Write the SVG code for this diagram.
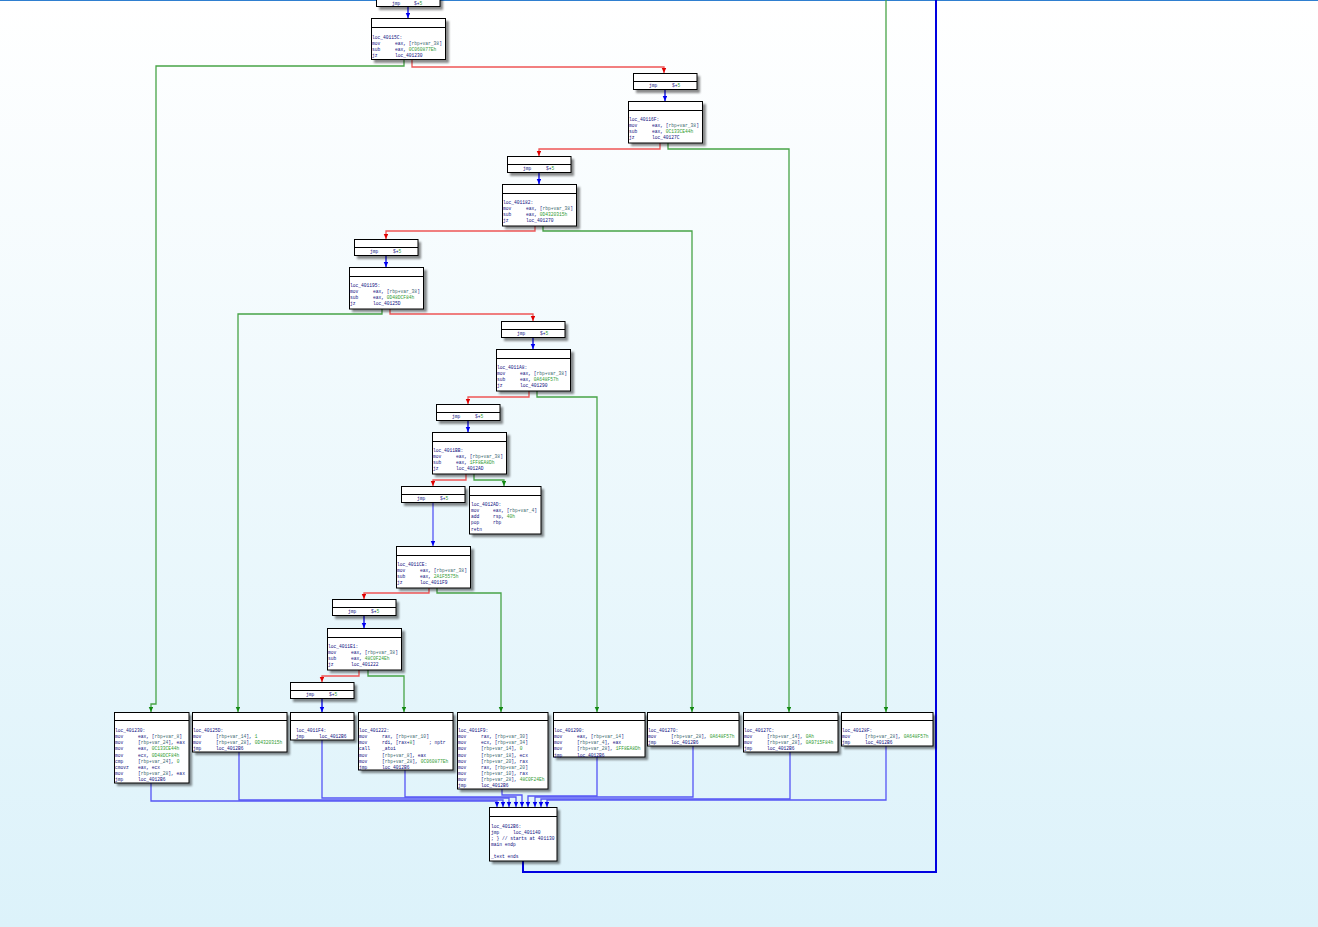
<svg xmlns="http://www.w3.org/2000/svg" width="1318" height="927" viewBox="0 0 1318 927">
<defs>
<linearGradient id="bg" x1="0" y1="0" x2="0" y2="1">
<stop offset="0" stop-color="#ffffff"/>
<stop offset="1" stop-color="#dcf2fa"/>
</linearGradient>
<filter id="blur" x="-10%" y="-10%" width="130%" height="130%"><feGaussianBlur stdDeviation="1"/></filter>
<marker id="ag" markerWidth="5" markerHeight="5" refX="5" refY="2.25" orient="auto" markerUnits="userSpaceOnUse"><path d="M0,0 L5,2.25 L0,4.5 z" fill="#138a13"/></marker>
<marker id="ar" markerWidth="5" markerHeight="5" refX="5" refY="2.25" orient="auto" markerUnits="userSpaceOnUse"><path d="M0,0 L5,2.25 L0,4.5 z" fill="#e00000"/></marker>
<marker id="ab" markerWidth="5" markerHeight="5" refX="5" refY="2.25" orient="auto" markerUnits="userSpaceOnUse"><path d="M0,0 L5,2.25 L0,4.5 z" fill="#0000f0"/></marker>
<style>
.bx{fill:#fff;stroke:#000;stroke-width:1}
.sh{fill:#000;opacity:0.45;filter:url(#blur)}
.hd{stroke:#000;stroke-width:1}
text{font-family:"Liberation Mono","DejaVu Sans Mono",monospace;font-size:4.6px;fill:#101080}
.n{fill:#2f9a2f}
.v{fill:#406a70}
.e{fill:none;stroke-width:1.3}
.g{stroke:#47a447}
.r{stroke:#ee5555}
.bl{stroke:#5555f5}
.bb{stroke:#0000e8}
</style>
</defs>
<rect width="1318" height="927" fill="url(#bg)"/>
<line x1="0" y1="0.5" x2="1318" y2="0.5" stroke="#2f7fd0" stroke-width="1"/>

<g id="connectors">
<polyline class="e g" points="404,60 404,66 156,66 156,704 151,704 151,712" marker-end="url(#ag)"/>
<polyline class="e g" points="668,143 668,149 789,149 789,712" marker-end="url(#ag)"/>
<polyline class="e g" points="543,226 543,231 692,231 692,712" marker-end="url(#ag)"/>
<polyline class="e g" points="382,309 382,314 238,314 238,712" marker-end="url(#ag)"/>
<polyline class="e g" points="537,391 537,397 597,397 597,712" marker-end="url(#ag)"/>
<polyline class="e g" points="474,474 474,480 504,480 504,486" marker-end="url(#ag)"/>
<polyline class="e g" points="437,588 437,593 501,593 501,712" marker-end="url(#ag)"/>
<polyline class="e g" points="368,670 368,676 404,676 404,712" marker-end="url(#ag)"/>
<polyline class="e g" points="886,0 886,712" marker-end="url(#ag)"/>

<polyline class="e r" points="412,60 412,67 664,67 664,73" marker-end="url(#ar)"/>
<polyline class="e r" points="660,143 660,149 539,149 539,156" marker-end="url(#ar)"/>
<polyline class="e r" points="535,226 535,231 386,231 386,239" marker-end="url(#ar)"/>
<polyline class="e r" points="390,309 390,314 533,314 533,321" marker-end="url(#ar)"/>
<polyline class="e r" points="529,391 529,397 468,397 468,404" marker-end="url(#ar)"/>
<polyline class="e r" points="466,474 466,480 433,480 433,486" marker-end="url(#ar)"/>
<polyline class="e r" points="429,588 429,593 364,593 364,599" marker-end="url(#ar)"/>
<polyline class="e r" points="359,670 359,676 322,676 322,682" marker-end="url(#ar)"/>

<polyline class="e bb" points="408,7 408,18" marker-end="url(#ab)"/>
<polyline class="e bb" points="665,90 665,101" marker-end="url(#ab)"/>
<polyline class="e bb" points="539,173 539,184" marker-end="url(#ab)"/>
<polyline class="e bb" points="386,256 386,267" marker-end="url(#ab)"/>
<polyline class="e bb" points="533,338 533,349" marker-end="url(#ab)"/>
<polyline class="e bb" points="468,421 468,432" marker-end="url(#ab)"/>
<polyline class="e bl" points="433,503 433,546" marker-end="url(#ab)"/>
<polyline class="e bb" points="364,616 364,628" marker-end="url(#ab)"/>
<polyline class="e bb" points="322,699 322,712" marker-end="url(#ab)"/>

<polyline class="e bl" points="151,783 151,801 497,801 497,807" marker-end="url(#ab)"/>
<polyline class="e bl" points="239,752 239,800 503,800 503,807" marker-end="url(#ab)"/>
<polyline class="e bl" points="322,740 322,798 509,798 509,807" marker-end="url(#ab)"/>
<polyline class="e bl" points="405,770 405,797 516,797 516,807" marker-end="url(#ab)"/>
<polyline class="e bl" points="502,789 502,795 522,795 522,807" marker-end="url(#ab)"/>
<polyline class="e bl" points="597,757 597,796 528,796 528,807" marker-end="url(#ab)"/>
<polyline class="e bl" points="693,746 693,797 535,797 535,807" marker-end="url(#ab)"/>
<polyline class="e bl" points="790,752 790,799 541,799 541,807" marker-end="url(#ab)"/>
<polyline class="e bl" points="886,746 886,800 547,800 547,807" marker-end="url(#ab)"/>
<polyline fill="none" stroke="#0000e0" stroke-width="2" points="523,861 523,872 936,872 936,0"/>
</g>

<g id="n_jmp0">
<rect class="sh" x="379" y="-9" width="64" height="19"/>
<rect class="bx" x="376.5" y="-12" width="63.5" height="18.5"/>
<text y="5"><tspan x="392">jmp</tspan><tspan x="414">$+<tspan class="n">5</tspan></tspan></text>
</g>

<g id="n_40115C">
<rect class="sh" x="374" y="21" width="75" height="42"/>
<rect class="bx" x="371.5" y="18.5" width="74" height="41"/>
<line class="hd" x1="371.5" y1="27.5" x2="445.5" y2="27.5"/>
<text y="38.5"><tspan x="372">loc_40115C:</tspan></text>
<text y="44.65"><tspan x="372">mov</tspan><tspan x="395">eax, [<tspan class="v">rbp+var_38</tspan>]</tspan></text>
<text y="50.8"><tspan x="372">sub</tspan><tspan x="395">eax, <tspan class="n">0C060877Eh</tspan></tspan></text>
<text y="56.95"><tspan x="372">jz</tspan><tspan x="395">loc_401230</tspan></text>
</g>

<g id="n_jmpA">
<rect class="sh" x="636" y="76" width="64" height="17"/>
<rect class="bx" x="633.5" y="73.5" width="63.5" height="16"/>
<line class="hd" x1="633.5" y1="81.5" x2="697" y2="81.5"/>
<text y="87"><tspan x="649">jmp</tspan><tspan x="672">$+<tspan class="n">5</tspan></tspan></text>
</g>

<g id="n_40116F">
<rect class="sh" x="631" y="104" width="75" height="42"/>
<rect class="bx" x="628.5" y="101.5" width="74" height="41.5"/>
<line class="hd" x1="628.5" y1="110.5" x2="702.5" y2="110.5"/>
<text y="121"><tspan x="629">loc_40116F:</tspan></text>
<text y="127.15"><tspan x="629">mov</tspan><tspan x="652">eax, [<tspan class="v">rbp+var_38</tspan>]</tspan></text>
<text y="133.3"><tspan x="629">sub</tspan><tspan x="652">eax, <tspan class="n">0C133CE44h</tspan></tspan></text>
<text y="139.45"><tspan x="629">jz</tspan><tspan x="652">loc_40127C</tspan></text>
</g>

<g id="n_jmpB">
<rect class="sh" x="510" y="159" width="64" height="17"/>
<rect class="bx" x="507.5" y="156.5" width="63.5" height="16"/>
<line class="hd" x1="507.5" y1="164.5" x2="571" y2="164.5"/>
<text y="170"><tspan x="523">jmp</tspan><tspan x="546">$+<tspan class="n">5</tspan></tspan></text>
</g>

<g id="n_401182">
<rect class="sh" x="505" y="187" width="75" height="42"/>
<rect class="bx" x="502.5" y="184.5" width="74" height="41.5"/>
<line class="hd" x1="502.5" y1="193.5" x2="576.5" y2="193.5"/>
<text y="204"><tspan x="503">loc_401182:</tspan></text>
<text y="210.15"><tspan x="503">mov</tspan><tspan x="526">eax, [<tspan class="v">rbp+var_38</tspan>]</tspan></text>
<text y="216.3"><tspan x="503">sub</tspan><tspan x="526">eax, <tspan class="n">0D4320315h</tspan></tspan></text>
<text y="222.45"><tspan x="503">jz</tspan><tspan x="526">loc_401270</tspan></text>
</g>

<g id="n_jmpC">
<rect class="sh" x="357" y="242" width="64" height="17"/>
<rect class="bx" x="354.5" y="239.5" width="63.5" height="16"/>
<line class="hd" x1="354.5" y1="247.5" x2="418" y2="247.5"/>
<text y="253"><tspan x="370">jmp</tspan><tspan x="393">$+<tspan class="n">5</tspan></tspan></text>
</g>

<g id="n_401195">
<rect class="sh" x="352" y="270" width="75" height="42"/>
<rect class="bx" x="349.5" y="267.5" width="74" height="41.5"/>
<line class="hd" x1="349.5" y1="276.5" x2="423.5" y2="276.5"/>
<text y="287"><tspan x="350">loc_401195:</tspan></text>
<text y="293.15"><tspan x="350">mov</tspan><tspan x="373">eax, [<tspan class="v">rbp+var_38</tspan>]</tspan></text>
<text y="299.3"><tspan x="350">sub</tspan><tspan x="373">eax, <tspan class="n">0D48DCF84h</tspan></tspan></text>
<text y="305.45"><tspan x="350">jz</tspan><tspan x="373">loc_40125D</tspan></text>
</g>

<g id="n_jmpD">
<rect class="sh" x="504" y="324" width="64" height="17"/>
<rect class="bx" x="501.5" y="321.5" width="63.5" height="16"/>
<line class="hd" x1="501.5" y1="329.5" x2="565" y2="329.5"/>
<text y="335"><tspan x="517">jmp</tspan><tspan x="540">$+<tspan class="n">5</tspan></tspan></text>
</g>

<g id="n_4011A8">
<rect class="sh" x="499" y="352" width="75" height="42"/>
<rect class="bx" x="496.5" y="349.5" width="74" height="41.5"/>
<line class="hd" x1="496.5" y1="358.5" x2="570.5" y2="358.5"/>
<text y="369"><tspan x="497">loc_4011A8:</tspan></text>
<text y="375.15"><tspan x="497">mov</tspan><tspan x="520">eax, [<tspan class="v">rbp+var_38</tspan>]</tspan></text>
<text y="381.3"><tspan x="497">sub</tspan><tspan x="520">eax, <tspan class="n">0A648F57h</tspan></tspan></text>
<text y="387.45"><tspan x="497">jz</tspan><tspan x="520">loc_401290</tspan></text>
</g>

<g id="n_jmpE">
<rect class="sh" x="439" y="407" width="64" height="17"/>
<rect class="bx" x="436.5" y="404.5" width="63.5" height="16"/>
<line class="hd" x1="436.5" y1="412.5" x2="500" y2="412.5"/>
<text y="418"><tspan x="452">jmp</tspan><tspan x="475">$+<tspan class="n">5</tspan></tspan></text>
</g>

<g id="n_4011BB">
<rect class="sh" x="435" y="435" width="75" height="42"/>
<rect class="bx" x="432.5" y="432.5" width="74" height="41.5"/>
<line class="hd" x1="432.5" y1="441.5" x2="506.5" y2="441.5"/>
<text y="452"><tspan x="433">loc_4011BB:</tspan></text>
<text y="458.15"><tspan x="433">mov</tspan><tspan x="456">eax, [<tspan class="v">rbp+var_38</tspan>]</tspan></text>
<text y="464.3"><tspan x="433">sub</tspan><tspan x="456">eax, <tspan class="n">1FF8EA8Dh</tspan></tspan></text>
<text y="470.45"><tspan x="433">jz</tspan><tspan x="456">loc_4012AD</tspan></text>
</g>

<g id="n_jmpF">
<rect class="sh" x="404" y="489" width="64" height="17"/>
<rect class="bx" x="401.5" y="486.5" width="63.5" height="16"/>
<line class="hd" x1="401.5" y1="494.5" x2="465" y2="494.5"/>
<text y="500"><tspan x="417">jmp</tspan><tspan x="440">$+<tspan class="n">5</tspan></tspan></text>
</g>

<g id="n_4012AD">
<rect class="sh" x="472" y="489" width="72" height="48"/>
<rect class="bx" x="469.5" y="486.5" width="71.5" height="47.5"/>
<line class="hd" x1="469.5" y1="495.5" x2="541" y2="495.5"/>
<text y="506"><tspan x="471">loc_4012AD:</tspan></text>
<text y="512.15"><tspan x="471">mov</tspan><tspan x="493">eax, [<tspan class="v">rbp+var_4</tspan>]</tspan></text>
<text y="518.3"><tspan x="471">add</tspan><tspan x="493">rsp, <tspan class="n">40h</tspan></tspan></text>
<text y="524.45"><tspan x="471">pop</tspan><tspan x="493">rbp</tspan></text>
<text y="530.6"><tspan x="471">retn</tspan></text>
</g>

<g id="n_4011CE">
<rect class="sh" x="399" y="549" width="75" height="42"/>
<rect class="bx" x="396.5" y="546.5" width="74" height="41.5"/>
<line class="hd" x1="396.5" y1="555.5" x2="470.5" y2="555.5"/>
<text y="566"><tspan x="397">loc_4011CE:</tspan></text>
<text y="572.15"><tspan x="397">mov</tspan><tspan x="420">eax, [<tspan class="v">rbp+var_38</tspan>]</tspan></text>
<text y="578.3"><tspan x="397">sub</tspan><tspan x="420">eax, <tspan class="n">2A1F5575h</tspan></tspan></text>
<text y="584.45"><tspan x="397">jz</tspan><tspan x="420">loc_4011F9</tspan></text>
</g>

<g id="n_jmpG">
<rect class="sh" x="335" y="602" width="64" height="17"/>
<rect class="bx" x="332.5" y="599.5" width="63.5" height="16"/>
<line class="hd" x1="332.5" y1="607.5" x2="396" y2="607.5"/>
<text y="613"><tspan x="348">jmp</tspan><tspan x="371">$+<tspan class="n">5</tspan></tspan></text>
</g>

<g id="n_4011E1">
<rect class="sh" x="330" y="631" width="75" height="42"/>
<rect class="bx" x="327.5" y="628.5" width="74" height="41.5"/>
<line class="hd" x1="327.5" y1="637.5" x2="401.5" y2="637.5"/>
<text y="648"><tspan x="328">loc_4011E1:</tspan></text>
<text y="654.15"><tspan x="328">mov</tspan><tspan x="351">eax, [<tspan class="v">rbp+var_38</tspan>]</tspan></text>
<text y="660.3"><tspan x="328">sub</tspan><tspan x="351">eax, <tspan class="n">48C0F24Eh</tspan></tspan></text>
<text y="666.45"><tspan x="328">jz</tspan><tspan x="351">loc_401222</tspan></text>
</g>

<g id="n_jmpH">
<rect class="sh" x="293" y="685" width="64" height="17"/>
<rect class="bx" x="290.5" y="682.5" width="63.5" height="16"/>
<line class="hd" x1="290.5" y1="690.5" x2="354" y2="690.5"/>
<text y="696"><tspan x="306">jmp</tspan><tspan x="329">$+<tspan class="n">5</tspan></tspan></text>
</g>

<g id="n_401230">
<rect class="sh" x="117" y="715" width="75" height="71"/>
<rect class="bx" x="114.5" y="712.5" width="74.5" height="70.5"/>
<line class="hd" x1="114.5" y1="720.5" x2="189" y2="720.5"/>
<text y="732"><tspan x="115">loc_401230:</tspan></text>
<text y="738.15"><tspan x="115">mov</tspan><tspan x="138">eax, [<tspan class="v">rbp+var_8</tspan>]</tspan></text>
<text y="744.3"><tspan x="115">mov</tspan><tspan x="138">[<tspan class="v">rbp+var_24</tspan>], eax</tspan></text>
<text y="750.45"><tspan x="115">mov</tspan><tspan x="138">eax, <tspan class="n">0C133CE44h</tspan></tspan></text>
<text y="756.6"><tspan x="115">mov</tspan><tspan x="138">ecx, <tspan class="n">0D48DCF84h</tspan></tspan></text>
<text y="762.75"><tspan x="115">cmp</tspan><tspan x="138">[<tspan class="v">rbp+var_24</tspan>], <tspan class="n">0</tspan></tspan></text>
<text y="768.9"><tspan x="115">cmovz</tspan><tspan x="138">eax, ecx</tspan></text>
<text y="775.05"><tspan x="115">mov</tspan><tspan x="138">[<tspan class="v">rbp+var_28</tspan>], eax</tspan></text>
<text y="781.2"><tspan x="115">jmp</tspan><tspan x="138">loc_4012B6</tspan></text>
</g>

<g id="n_40125D">
<rect class="sh" x="195" y="715" width="95" height="40"/>
<rect class="bx" x="192.5" y="712.5" width="94.5" height="39.5"/>
<line class="hd" x1="192.5" y1="720.5" x2="287" y2="720.5"/>
<text y="732"><tspan x="193">loc_40125D:</tspan></text>
<text y="738.15"><tspan x="193">mov</tspan><tspan x="216">[<tspan class="v">rbp+var_14</tspan>], <tspan class="n">1</tspan></tspan></text>
<text y="744.3"><tspan x="193">mov</tspan><tspan x="216">[<tspan class="v">rbp+var_28</tspan>], <tspan class="n">0D4320315h</tspan></tspan></text>
<text y="750.45"><tspan x="193">jmp</tspan><tspan x="216">loc_4012B6</tspan></text>
</g>

<g id="n_4011F4">
<rect class="sh" x="293" y="715" width="64" height="28"/>
<rect class="bx" x="290.5" y="712.5" width="63.5" height="27.5"/>
<line class="hd" x1="290.5" y1="720.5" x2="354" y2="720.5"/>
<text y="732"><tspan x="296">loc_4011F4:</tspan></text>
<text y="738.15"><tspan x="296">jmp</tspan><tspan x="319">loc_4012B6</tspan></text>
</g>

<g id="n_401222">
<rect class="sh" x="361" y="715" width="95" height="58"/>
<rect class="bx" x="358.5" y="712.5" width="94.5" height="57.5"/>
<line class="hd" x1="358.5" y1="720.5" x2="453" y2="720.5"/>
<text y="732"><tspan x="359">loc_401222:</tspan></text>
<text y="738.15"><tspan x="359">mov</tspan><tspan x="382">rax, [<tspan class="v">rbp+var_10</tspan>]</tspan></text>
<text y="744.3"><tspan x="359">mov</tspan><tspan x="382">rdi, [rax+<tspan class="n">8</tspan>]</tspan><tspan x="429">; nptr</tspan></text>
<text y="750.45"><tspan x="359">call</tspan><tspan x="382">_atoi</tspan></text>
<text y="756.6"><tspan x="359">mov</tspan><tspan x="382">[<tspan class="v">rbp+var_8</tspan>], eax</tspan></text>
<text y="762.75"><tspan x="359">mov</tspan><tspan x="382">[<tspan class="v">rbp+var_28</tspan>], <tspan class="n">0C060877Eh</tspan></tspan></text>
<text y="768.9"><tspan x="359">jmp</tspan><tspan x="382">loc_4012B6</tspan></text>
</g>

<g id="n_4011F9">
<rect class="sh" x="460" y="715" width="91" height="77"/>
<rect class="bx" x="457.5" y="712.5" width="90.5" height="76.5"/>
<line class="hd" x1="457.5" y1="720.5" x2="548" y2="720.5"/>
<text y="732"><tspan x="458">loc_4011F9:</tspan></text>
<text y="738.15"><tspan x="458">mov</tspan><tspan x="481">rax, [<tspan class="v">rbp+var_30</tspan>]</tspan></text>
<text y="744.3"><tspan x="458">mov</tspan><tspan x="481">ecx, [<tspan class="v">rbp+var_34</tspan>]</tspan></text>
<text y="750.45"><tspan x="458">mov</tspan><tspan x="481">[<tspan class="v">rbp+var_14</tspan>], <tspan class="n">0</tspan></tspan></text>
<text y="756.6"><tspan x="458">mov</tspan><tspan x="481">[<tspan class="v">rbp+var_18</tspan>], ecx</tspan></text>
<text y="762.75"><tspan x="458">mov</tspan><tspan x="481">[<tspan class="v">rbp+var_20</tspan>], rax</tspan></text>
<text y="768.9"><tspan x="458">mov</tspan><tspan x="481">rax, [<tspan class="v">rbp+var_20</tspan>]</tspan></text>
<text y="775.05"><tspan x="458">mov</tspan><tspan x="481">[<tspan class="v">rbp+var_10</tspan>], rax</tspan></text>
<text y="781.2"><tspan x="458">mov</tspan><tspan x="481">[<tspan class="v">rbp+var_28</tspan>], <tspan class="n">48C0F24Eh</tspan></tspan></text>
<text y="787.35"><tspan x="458">jmp</tspan><tspan x="481">loc_4012B6</tspan></text>
</g>

<g id="n_401290">
<rect class="sh" x="556" y="715" width="92" height="45"/>
<rect class="bx" x="553.5" y="712.5" width="91.5" height="44.5"/>
<line class="hd" x1="553.5" y1="720.5" x2="645" y2="720.5"/>
<text y="732"><tspan x="554">loc_401290:</tspan></text>
<text y="738.15"><tspan x="554">mov</tspan><tspan x="577">eax, [<tspan class="v">rbp+var_14</tspan>]</tspan></text>
<text y="744.3"><tspan x="554">mov</tspan><tspan x="577">[<tspan class="v">rbp+var_4</tspan>], eax</tspan></text>
<text y="750.45"><tspan x="554">mov</tspan><tspan x="577">[<tspan class="v">rbp+var_28</tspan>], <tspan class="n">1FF8EA8Dh</tspan></tspan></text>
<text y="756.6"><tspan x="554">jmp</tspan><tspan x="577">loc_4012B6</tspan></text>
</g>

<g id="n_401270">
<rect class="sh" x="650" y="715" width="92" height="34"/>
<rect class="bx" x="647.5" y="712.5" width="91.5" height="33.5"/>
<line class="hd" x1="647.5" y1="720.5" x2="739" y2="720.5"/>
<text y="732"><tspan x="648">loc_401270:</tspan></text>
<text y="738.15"><tspan x="648">mov</tspan><tspan x="671">[<tspan class="v">rbp+var_28</tspan>], <tspan class="n">0A648F57h</tspan></tspan></text>
<text y="744.3"><tspan x="648">jmp</tspan><tspan x="671">loc_4012B6</tspan></text>
</g>

<g id="n_40127C">
<rect class="sh" x="746" y="715" width="95" height="40"/>
<rect class="bx" x="743.5" y="712.5" width="94.5" height="39.5"/>
<line class="hd" x1="743.5" y1="720.5" x2="838" y2="720.5"/>
<text y="732"><tspan x="744">loc_40127C:</tspan></text>
<text y="738.15"><tspan x="744">mov</tspan><tspan x="767">[<tspan class="v">rbp+var_14</tspan>], <tspan class="n">0Ah</tspan></tspan></text>
<text y="744.3"><tspan x="744">mov</tspan><tspan x="767">[<tspan class="v">rbp+var_28</tspan>], <tspan class="n">0A9715F84h</tspan></tspan></text>
<text y="750.45"><tspan x="744">jmp</tspan><tspan x="767">loc_4012B6</tspan></text>
</g>

<g id="n_40128F">
<rect class="sh" x="844" y="715" width="92" height="34"/>
<rect class="bx" x="841.5" y="712.5" width="91.5" height="33.5"/>
<line class="hd" x1="841.5" y1="720.5" x2="933" y2="720.5"/>
<text y="732"><tspan x="842">loc_40128F:</tspan></text>
<text y="738.15"><tspan x="842">mov</tspan><tspan x="865">[<tspan class="v">rbp+var_28</tspan>], <tspan class="n">0A648F57h</tspan></tspan></text>
<text y="744.3"><tspan x="842">jmp</tspan><tspan x="865">loc_4012B6</tspan></text>
</g>

<g id="n_4012B6">
<rect class="sh" x="492" y="810" width="68" height="54"/>
<rect class="bx" x="489.5" y="807.5" width="67.5" height="53.5"/>
<line class="hd" x1="489.5" y1="816.5" x2="557" y2="816.5"/>
<text y="827.5"><tspan x="491">loc_4012B6:</tspan></text>
<text y="833.65"><tspan x="491">jmp</tspan><tspan x="513">loc_401140</tspan></text>
<text y="839.8"><tspan x="491">; } // starts at 401130</tspan></text>
<text y="845.95"><tspan x="491">main endp</tspan></text>
<text y="858.25"><tspan x="491">_text ends</tspan></text>
</g>
</svg>
